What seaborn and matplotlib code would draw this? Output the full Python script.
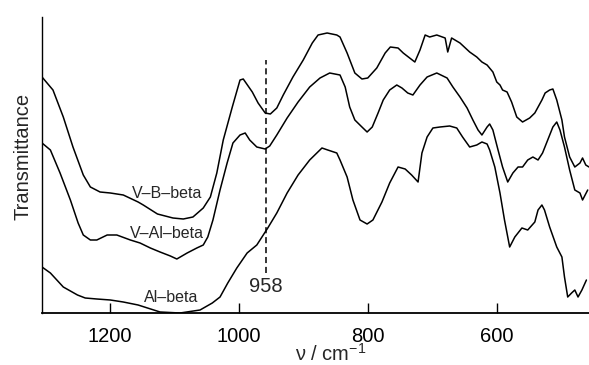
import seaborn as sns
import matplotlib.pyplot as plt

# IR spectra: wavenumber (cm-1) and transmittance (arbitrary units)
vb_wn = [1305, 1288, 1272, 1257, 1241, 1230, 1215, 1199, 1179, 1156, 1148, 1126, 1102, 1086,
         1071, 1055, 1044, 1034, 1024, 1010, 998, 993, 979, 970, 959, 951, 941, 931, 916, 900,
         886, 877, 863, 848, 843, 832, 820, 809, 800, 786, 773, 765, 753, 745, 735, 727, 719,
         711, 704, 693, 680, 676, 670, 657, 642, 631, 623, 615, 606, 600, 595, 591, 584, 577,
         569, 560, 549, 541, 530, 525, 518, 513, 507, 499, 495, 487, 479, 471, 467, 462, 457]
vb_t = [236, 223, 196, 166, 138, 126, 121, 120, 118, 111, 108, 99, 95, 94,
        96, 105, 116, 140, 173, 206, 233, 234, 221, 210, 200, 199, 205, 218, 236, 253,
        270, 278, 280, 278, 276, 260, 240, 234, 235, 245, 260, 266, 265, 260, 255, 251, 263,
        278, 276, 278, 275, 261, 275, 270, 261, 256, 251, 248, 241, 231, 228, 223, 221, 211,
        196, 191, 195, 200, 213, 220, 223, 224, 213, 193, 176, 156, 146, 150, 155, 148, 146]

val_wn = [1305, 1292, 1277, 1261, 1249, 1241, 1230, 1220, 1204, 1189, 1168, 1153, 1137, 1122,
          1106, 1096, 1080, 1065, 1055, 1048, 1040, 1029, 1018, 1009, 998, 990, 983, 972, 959,
          952, 941, 925, 908, 890, 874, 859, 843, 835, 828, 820, 809, 801, 793, 784, 776, 766,
          755, 747, 738, 730, 719, 708, 693, 677, 668, 657, 646, 637, 629, 623, 615, 611, 606,
          598, 591, 583, 575, 567, 560, 552, 544, 536, 529, 521, 513, 507, 502, 495, 487, 479,
          471, 467, 459]
val_t = [170, 163, 140, 113, 90, 78, 73, 73, 78, 78, 73, 70, 65, 61,
         57, 54, 60, 65, 68, 76, 93, 123, 150, 170, 178, 180, 173, 166, 164,
         167, 178, 195, 211, 226, 235, 240, 238, 226, 206, 193, 186, 181, 186, 200, 213, 223,
         228, 225, 220, 218, 228, 236, 240, 235, 226, 216, 205, 193, 183, 178, 186, 189, 183,
         163, 146, 131, 140, 146, 146, 153, 156, 153, 160, 173, 186, 191, 183, 166, 143, 123,
         120, 113, 123]

al_wn = [1305, 1292, 1272, 1250, 1238, 1220, 1199, 1179, 1156, 1122, 1091, 1060, 1041, 1029,
         1017, 1003, 987, 972, 955, 941, 925, 908, 890, 871, 862, 848, 843, 832, 823, 812, 801,
         792, 778, 766, 753, 742, 732, 722, 716, 708, 699, 688, 673, 662, 653, 642, 631, 623,
         615, 611, 603, 595, 588, 580, 572, 561, 552, 541, 536, 530, 526, 518, 507, 499, 495,
         490, 484, 479, 474, 468, 461]
al_t = [46, 40, 26, 18, 15, 14, 13, 11, 8, 1, 0, 3, 10, 16,
        30, 45, 60, 68, 85, 100, 120, 138, 153, 165, 163, 160, 153, 136, 113, 93, 89,
        93, 111, 130, 146, 144, 138, 131, 160, 176, 185, 186, 187, 185, 176, 166, 168, 171,
        169, 163, 146, 120, 93, 66, 76, 85, 83, 91, 103, 108, 103, 86, 66, 56, 36,
        16, 20, 23, 16, 23, 33]

band_wn = 958

sns.set_style("white")
plt.rcParams["font.family"] = ["Liberation Sans", "DejaVu Sans"]
plt.rcParams["mathtext.fontset"] = "custom"
plt.rcParams["mathtext.rm"] = "Liberation Sans"
plt.rcParams["mathtext.it"] = "Liberation Sans"

fig = plt.figure(figsize=(5.89, 3.65), dpi=100)
ax = fig.add_axes([42 / 589, 52 / 365, 547 / 589, 296 / 365])

for wn, t in [(vb_wn, vb_t), (val_wn, val_t), (al_wn, al_t)]:
    sns.lineplot(x=wn, y=t, color="black", lw=1.1, estimator=None, ax=ax)

ax.plot([band_wn, band_wn], [40, 253], color="black", lw=1.1, ls=(0, (4, 2.5)))

ax.text(1111, 119, "V–B–beta", fontsize=11.5, ha="center", va="center")
ax.text(1112, 80, "V–Al–beta", fontsize=11.5, ha="center", va="center")
ax.text(1104, 16, "Al–beta", fontsize=11.5, ha="center", va="center")
ax.text(band_wn, 26, str(band_wn), fontsize=14.5, ha="center", va="center")

ax.set_xlim(1305, 457)
ax.set_ylim(0, 296)
ax.set_xticks([1200, 1000, 800, 600])
ax.set_yticks([])
ax.tick_params(axis="x", direction="in", length=7, width=1, pad=10, labelsize=14.5,
               bottom=True, colors="black")
for s in ["top", "right"]:
    ax.spines[s].set_visible(False)
ax.spines["left"].set_color("black")
ax.spines["bottom"].set_color("black")
ax.spines["left"].set_linewidth(1.0)
ax.spines["bottom"].set_linewidth(1.3)

ax.set_xlabel(r"ν / cm$^{-1}$", fontsize=14.5)
ax.xaxis.set_label_coords(0.527, -0.10)
ax.set_ylabel("Transmittance", fontsize=14.5)
ax.yaxis.set_label_coords(-0.018, 0.53)

fig.savefig("out.png", dpi=100)
